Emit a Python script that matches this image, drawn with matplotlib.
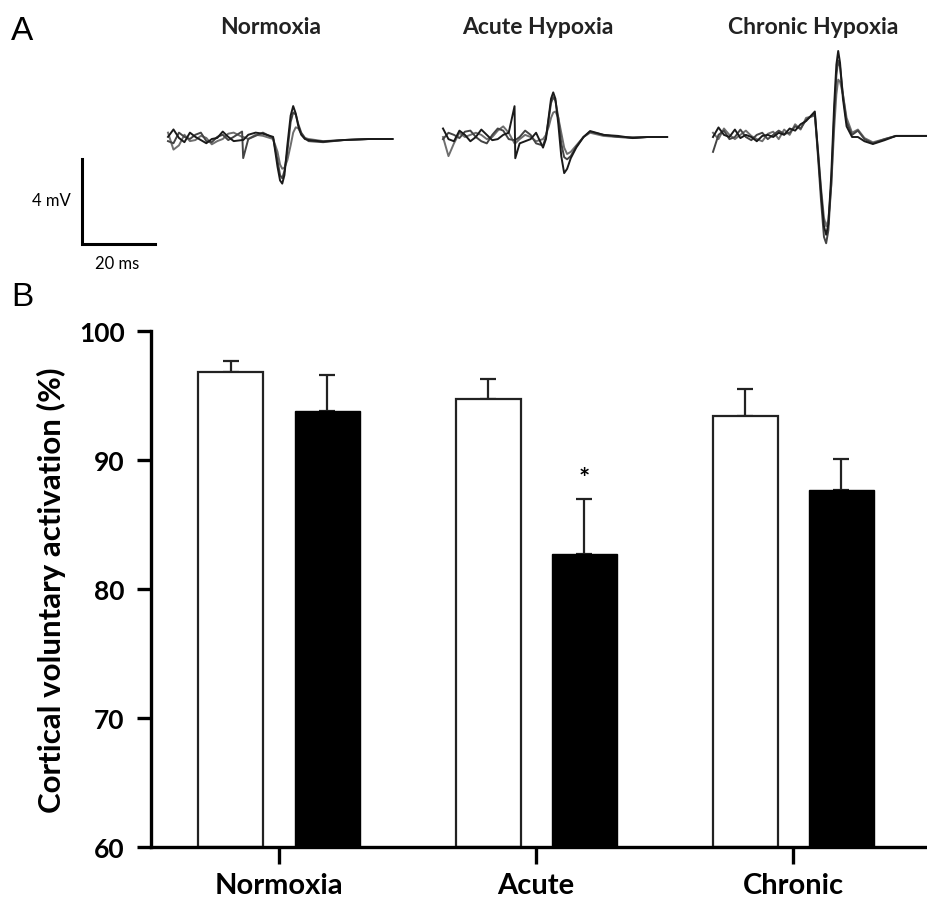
import matplotlib
matplotlib.use("Agg")
import matplotlib.pyplot as plt

plt.rcParams['font.family'] = ['Lato', 'DejaVu Sans']

# ---- panel B data ----
groups = ['Normoxia', 'Acute', 'Chronic']
rest_mean = [96.8, 94.7, 93.4]
rest_err = [0.9, 1.6, 2.1]
hyp_mean = [93.8, 82.7, 87.7]
hyp_err = [2.8, 4.3, 2.4]
significant = [False, True, False]
y_ticks = [60, 70, 80, 90, 100]

# ---- panel A traces (time in ms, amplitude in mV) ----
trace_titles = ['Normoxia', 'Acute Hypoxia', 'Chronic Hypoxia']

norm_t = [0, 1.5, 3, 4.5, 6, 7.5, 9, 10.5, 12, 13.5, 15, 16.5, 18, 20.3, 20.6, 22, 24, 26,
          28.8, 30, 30.7, 31.3, 31.9, 32.7, 33.6, 34.3, 35.0, 35.7, 36.5, 37.5, 38.5,
          42.5, 48, 55, 61.5]
norm_v1 = [0.1, 0.45, 0.05, -0.15, 0.3, 0.1, -0.05, -0.2, 0.0, 0.05, 0.35, 0.1, -0.1, -0.05, -0.05, 0.2, 0.3, 0.25,
           0.1, -1.3, -1.95, -2.1, -1.7, -0.3, 1.1, 1.55, 1.2, 0.6, 0.2, 0.0, -0.05,
           -0.12, -0.05, 0.0, 0.0]
norm_v2 = [-0.1, -0.2, 0.3, 0.1, 0.0, 0.2, 0.3, -0.1, -0.15, 0.1, 0.2, -0.05, 0.1, 0.35, -0.9, 0.0, 0.15, 0.3,
           0.05, -1.0, -1.7, -1.85, -1.5, -0.6, 0.8, 1.25, 1.15, 0.7, 0.3, 0.05, -0.1,
           -0.15, -0.05, 0.0, 0.0]
norm_v3 = [0.3, -0.5, -0.3, 0.2, -0.1, -0.05, 0.15, 0.05, -0.25, -0.1, 0.0, 0.25, 0.3, 0.1, 0.1, 0.0, 0.2, 0.15,
           0.0, -0.6, -1.2, -1.4, -1.35, -1.0, -0.3, 0.3, 0.55, 0.5, 0.25, 0.05, 0.0,
           -0.1, -0.05, 0.0, 0.0]

acute_t = [0, 1.5, 3, 4.5, 6, 7.5, 9, 10.5, 12, 13.5, 15, 16.5, 18, 19.6, 19.8, 21, 22.5, 24,
           25.5, 27.4, 28.2, 29.0, 29.6, 30.2, 30.8, 31.6, 32.4, 33.2, 34.0, 35.0, 36.5, 38.5, 40.3,
           44, 48, 52, 56, 61.4]
acute_v1 = [0.4, -0.1, -0.2, 0.3, 0.1, -0.2, 0.0, 0.35, 0.1, -0.15, -0.1, 0.1, 0.2, 1.45, -1.0, -0.3, -0.2, -0.1,
            0.2, -0.5, -0.1, 1.0, 1.8, 2.1, 1.8, 0.6, -0.9, -1.7, -1.5, -1.0, -0.5, 0.0, 0.28,
            0.1, 0.05, -0.05, 0.0, 0.0]
acute_v2 = [-0.1, 0.2, 0.1, -0.05, 0.25, 0.3, 0.0, -0.2, -0.3, 0.1, 0.4, 0.3, -0.1, -0.15, -0.15, 0.0, 0.3, 0.1,
            -0.3, -0.4, 0.0, 0.9, 1.6, 1.88, 1.7, 0.9, -0.3, -0.95, -1.05, -0.9, -0.45, 0.0, 0.25,
            0.1, 0.0, -0.05, 0.0, 0.0]
acute_v3 = [0.0, -0.9, -0.3, 0.2, 0.0, 0.1, 0.2, 0.1, -0.1, 0.0, 0.3, 0.5, 0.2, -0.3, -0.3, -0.1, 0.1, 0.0,
            -0.2, -0.1, 0.1, 0.5, 0.9, 1.15, 1.2, 0.9, 0.2, -0.5, -0.8, -0.7, -0.4, 0.0, 0.2,
            0.05, 0.0, 0.0, 0.0, 0.0]

chron_t = [0, 1.5, 3, 4.5, 6, 7.5, 9, 10.5, 12, 13.5, 15, 16.5, 18, 19.5, 21, 22.5, 24,
           25.5, 27.9, 28.8, 29.6, 30.4, 31.0, 31.6, 32.4, 33.2, 33.8, 34.3, 34.8, 35.6, 36.6, 38.1,
           39.7, 41.5, 43.8, 47, 50.1, 54, 58.6]
chron_v1 = [0.0, 0.45, 0.1, 0.0, 0.35, -0.05, 0.1, 0.0, -0.2, 0.05, 0.1, 0.0, 0.2, 0.1, 0.4, 0.3, 0.6,
            0.75, 1.2, -0.8, -2.6, -4.2, -4.6, -4.1, -1.8, 1.5, 3.4, 4.05, 3.5, 1.8, 0.5, 0.0,
            0.0, -0.2, -0.33, -0.15, 0.05, 0.05, 0.05]
chron_v2 = [-0.7, 0.1, 0.3, -0.1, 0.0, 0.35, 0.0, -0.15, 0.1, 0.2, -0.1, 0.1, 0.3, 0.15, 0.2, 0.5, 0.4,
            0.8, 1.1, -1.0, -3.0, -4.7, -5.0, -4.4, -2.2, 1.0, 2.9, 3.6, 3.3, 2.0, 0.7, 0.1,
            0.3, -0.1, -0.3, -0.1, 0.05, 0.05, 0.05]
chron_v3 = [0.2, -0.1, 0.4, 0.1, -0.1, 0.1, 0.3, 0.05, -0.1, -0.2, 0.15, 0.25, -0.1, 0.35, 0.1, 0.6, 0.35,
            0.9, 1.0, -0.7, -2.4, -3.8, -4.2, -3.9, -2.3, 0.4, 2.0, 2.7, 2.6, 2.0, 0.9, 0.2,
            0.35, -0.05, -0.25, -0.1, 0.05, 0.05, 0.05]

scale_ms = 20
scale_mv = 4

W, H = 927, 904
PX_MS = 3.65   # pixels per ms in the trace panels
PX_MV = 21.25  # pixels per mV

fig = plt.figure(figsize=(W / 100, H / 100), dpi=100)


def trace_axes(left_px, base_px, t_max, v_lo, v_hi):
    """Axes whose data units are ms / mV at the fixed trace scale."""
    top_px = base_px - v_hi * PX_MV
    bottom_px = base_px - v_lo * PX_MV
    ax = fig.add_axes([left_px / W, 1 - bottom_px / H,
                       t_max * PX_MS / W, (bottom_px - top_px) / H])
    ax.set_xlim(0, t_max)
    ax.set_ylim(v_lo, v_hi)
    ax.axis('off')
    return ax


trace_sets = [
    (168, 140, norm_t, [norm_v1, norm_v2, norm_v3]),
    (443, 138, acute_t, [acute_v1, acute_v2, acute_v3]),
    (713, 138, chron_t, [chron_v1, chron_v2, chron_v3]),
]
trace_colors = ['#1a1a1a', '#444444', '#6e6e6e']
title_x = [271, 538, 813]

for (left, base, t, vals), title, tx in zip(trace_sets, trace_titles, title_x):
    ax = trace_axes(left, base, 62, -6, 5)
    for v, c in zip(vals[::-1], trace_colors[::-1]):
        ax.plot(t, v, color=c, lw=1.4, clip_on=False, solid_joinstyle='round')
    fig.text(tx / W, 1 - 27 / H, title, ha='center', va='center',
             fontsize=16.5, fontweight='bold', color='#222222')

# scale bar
sax = trace_axes(82, 245, scale_ms, 0, scale_mv)
sax.plot([0, 0, scale_ms], [scale_mv, 0, 0], color='black', lw=2.2,
         clip_on=False, solid_joinstyle='miter')
sax.text(-3.2, scale_mv / 2 + 0.05, f'{scale_mv} mV', ha='right', va='center', fontsize=12)
sax.text(scale_ms / 2 - 0.5, -0.5, f'{scale_ms} ms', ha='center', va='top', fontsize=12)

fig.text(11 / W, 1 - 32 / H, 'A', fontsize=24, family='Liberation Sans', va='center')
fig.text(11 / W, 1 - 298 / H, 'B', fontsize=24, family='Liberation Sans', va='center')

# ---- panel B ----
ax = fig.add_axes([151 / W, 1 - 848 / H, (927 - 151) / W, (848 - 332) / H])
x = list(range(len(groups)))
off = 0.187
bw = 0.253
xr = [i - off for i in x]
xh = [i + off for i in x]

ax.errorbar(xr, rest_mean, yerr=[[0] * 3, rest_err], fmt='none', ecolor='#222222',
            elinewidth=1.6, capsize=6, capthick=1.6, zorder=1)
ax.errorbar(xh, hyp_mean, yerr=[[0] * 3, hyp_err], fmt='none', ecolor='#222222',
            elinewidth=1.6, capsize=6, capthick=1.6, zorder=1)
ax.bar(xr, [m - 60 for m in rest_mean], bw, bottom=60, color='white',
       edgecolor='#222222', linewidth=1.6, zorder=2)
ax.bar(xh, [m - 60 for m in hyp_mean], bw, bottom=60, color='black',
       edgecolor='black', linewidth=1.0, zorder=2)

for xi, m, e, s in zip(xh, hyp_mean, hyp_err, significant):
    if s:
        ax.text(xi, m + e + 1.6, '*', ha='center', va='center', fontsize=19,
                fontweight='bold')

ax.set_xlim(-0.498, 2.52)
ax.set_ylim(60, 100)
ax.set_yticks(y_ticks)
ax.set_xticks(x)
ax.set_xticklabels(groups)
for side in ['top', 'right']:
    ax.spines[side].set_visible(False)
for side in ['left', 'bottom']:
    ax.spines[side].set_linewidth(2.4)
ax.tick_params(axis='y', length=10, width=2.4, pad=9, labelsize=19)
ax.tick_params(axis='x', length=12, width=2.4, pad=6, labelsize=21)
for lab in ax.get_xticklabels() + ax.get_yticklabels():
    lab.set_fontweight('bold')
ax.set_ylabel('Cortical voluntary activation (%)', fontsize=22.5, fontweight='bold',
              labelpad=9)

fig.savefig('out.png', dpi=100)
